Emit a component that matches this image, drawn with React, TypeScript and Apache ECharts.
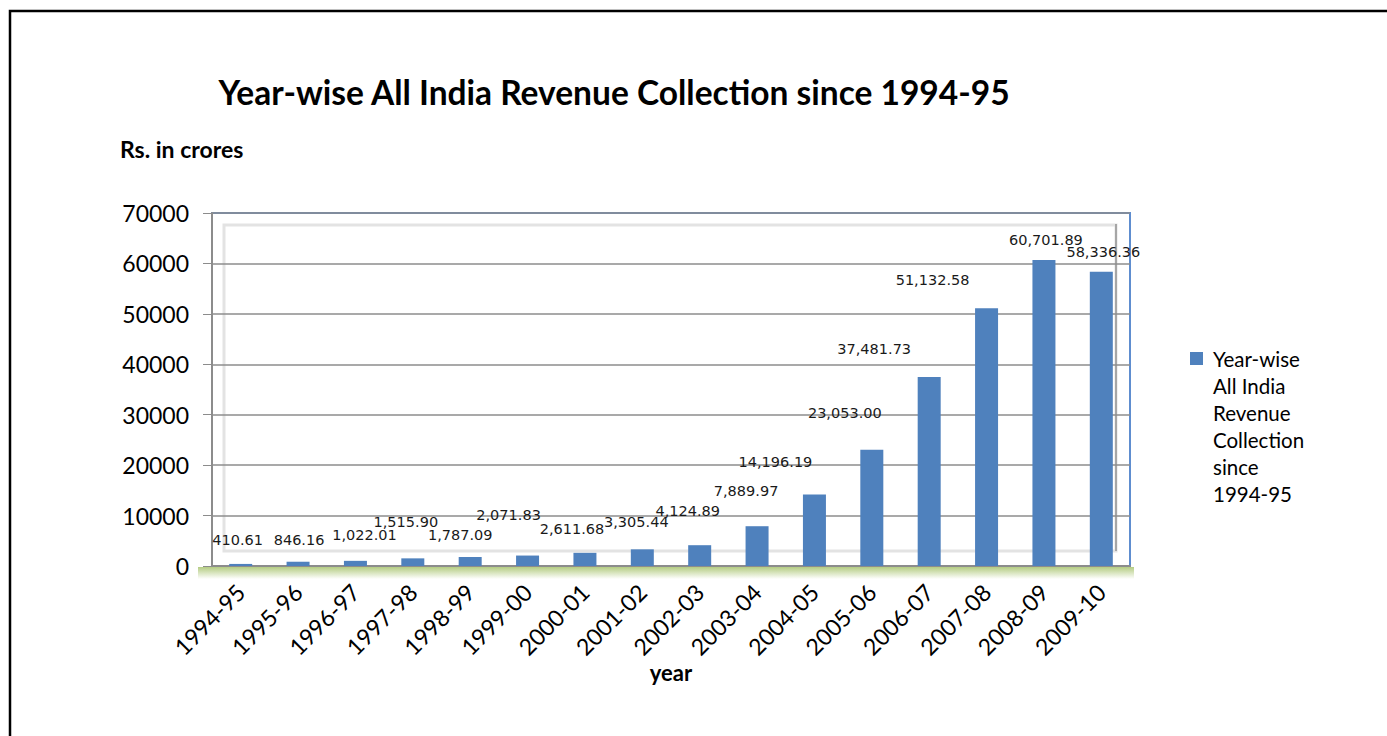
import React, { useEffect, useRef } from "react";
import * as echarts from "echarts";

const categories = [
  "1994-95", "1995-96", "1996-97", "1997-98", "1998-99", "1999-00", "2000-01", "2001-02",
  "2002-03", "2003-04", "2004-05", "2005-06", "2006-07", "2007-08", "2008-09", "2009-10",
];
const revenue = [
  410.61, 846.16, 1022.01, 1515.9, 1787.09, 2071.83, 2611.68, 3305.44,
  4124.89, 7889.97, 14196.19, 23053.0, 37481.73, 51132.58, 60701.89, 58336.36,
];
const yTicks = [0, 10000, 20000, 30000, 40000, 50000, 60000, 70000];
const seriesName = "Year-wise All India Revenue Collection since 1994-95";
const legendLines = ["Year-wise", "All India", "Revenue", "Collection", "since", "1994-95"];
const titleText = "Year-wise All India Revenue Collection since 1994-95";
const unitText = "Rs. in crores";
const axisName = "year";

// label placement tweaks (layout only), mimicking the manually placed labels
const labelOffsets: number[][] = [
  [-3, -11], [1, -9], [9, -13], [-7, -24], [-10, -9], [-19, -28], [-13, -11], [-6, -15],
  [-12, -22], [-11, -23], [-39, -20], [-27, -24], [-55, -15], [-54, -16], [2, -7], [2, -7],
];

const fmt = (v: number) =>
  v.toLocaleString("en-US", { minimumFractionDigits: 2, maximumFractionDigits: 2 });

export default function App() {
  const ref = useRef<HTMLDivElement>(null);
  useEffect(() => {
    if (!ref.current) return;
    const chart = echarts.init(ref.current, null, { renderer: "svg" });
    const font = "Lato, 'Open Sans', sans-serif";
    chart.setOption({
      animation: false,
      backgroundColor: "#ffffff",
      textStyle: { fontFamily: font },
      grid: {
        left: 212,
        top: 213,
        right: 257,
        bottom: 170,
        show: true,
        borderColor: "#5E8DCF",
        borderWidth: 2,
        backgroundColor: "transparent",
      },
      xAxis: {
        type: "category",
        data: categories,
        name: axisName,
        nameLocation: "middle",
        nameGap: 91,
        nameTextStyle: { fontFamily: font, fontSize: 22, fontWeight: "bold", color: "#000" },
        axisLine: { show: true, lineStyle: { color: "#8C8C8C", width: 2 } },
        axisTick: { show: false },
        axisLabel: {
          rotate: 45,
          interval: 0,
          margin: 22,
          fontFamily: font,
          fontSize: 23,
          color: "#000",
        },
      },
      yAxis: {
        type: "value",
        min: yTicks[0],
        max: yTicks[yTicks.length - 1],
        interval: yTicks[1] - yTicks[0],
        axisLine: { show: true, lineStyle: { color: "#8C8C8C", width: 2 } },
        axisTick: { show: true, length: 9, lineStyle: { color: "#8C8C8C", width: 1 } },
        splitLine: { show: true, lineStyle: { color: "#8C8C8C", width: 1.5 } },
        axisLabel: {
          fontFamily: font,
          fontSize: 23,
          color: "#000",
          margin: 23,
          formatter: (v: number) => String(v),
        },
      },
      series: [
        {
          name: seriesName,
          type: "bar",
          barWidth: 23,
          itemStyle: { color: "#4F81BD" },
          z: 3,
          data: revenue.map((v, i) => ({
            value: v,
            label: { offset: labelOffsets[i] },
          })),
          label: {
            show: true,
            position: "top",
            distance: 5,
            fontFamily: "'DejaVu Sans', Verdana, sans-serif",
            fontSize: 14.5,
            color: "#1a1a1a",
            formatter: (p: any) => fmt(p.value),
          },
        },
      ],
      graphic: [
        {
          type: "rect",
          z: -10,
          silent: true,
          shape: { x: 10, y: 11, width: 1420, height: 800 },
          style: { fill: "none", stroke: "#000", lineWidth: 2.5 },
        },
        {
          type: "rect",
          z: -10,
          silent: true,
          shape: { x: 224, y: 225, width: 892, height: 326 },
          style: { fill: "none", stroke: "#E3E3E3", lineWidth: 3 },
        },
        {
          type: "line",
          z: -9,
          silent: true,
          shape: { x1: 1116, y1: 224, x2: 1116, y2: 551 },
          style: { stroke: "#A6A6A6", lineWidth: 2 },
        },
        {
          type: "rect",
          z: -10,
          silent: true,
          shape: { x: 198, y: 567, width: 936, height: 12 },
          style: {
            fill: new echarts.graphic.LinearGradient(0, 0, 0, 1, [
              { offset: 0, color: "rgba(155,187,89,0.75)" },
              { offset: 1, color: "rgba(155,187,89,0)" },
            ]),
          },
        },
        {
          type: "text",
          silent: true,
          x: 614,
          y: 92,
          style: {
            text: titleText,
            fontFamily: font,
            fontSize: 33.5,
            fontWeight: "bold",
            fill: "#000",
            textAlign: "center",
            textVerticalAlign: "middle",
          },
        },
        {
          type: "text",
          silent: true,
          x: 120,
          y: 149,
          style: {
            text: unitText,
            fontFamily: font,
            fontSize: 23,
            fontWeight: "bold",
            fill: "#000",
            textAlign: "left",
            textVerticalAlign: "middle",
          },
        },
        {
          type: "rect",
          silent: true,
          shape: { x: 1190, y: 352, width: 13, height: 13 },
          style: { fill: "#4F81BD" },
        },
        ...legendLines.map((t, i) => ({
          type: "text",
          silent: true,
          x: 1213,
          y: 359 + i * 27,
          style: {
            text: t,
            fontFamily: font,
            fontSize: 20.5,
            fill: "#000",
            textAlign: "left",
            textVerticalAlign: "middle",
          },
        })),
      ],
    });
    return () => chart.dispose();
  }, []);
  return (
    <div
      ref={ref}
      style={{ position: "absolute", left: 0, top: 0, width: 1387, height: 736 }}
    />
  );
}
